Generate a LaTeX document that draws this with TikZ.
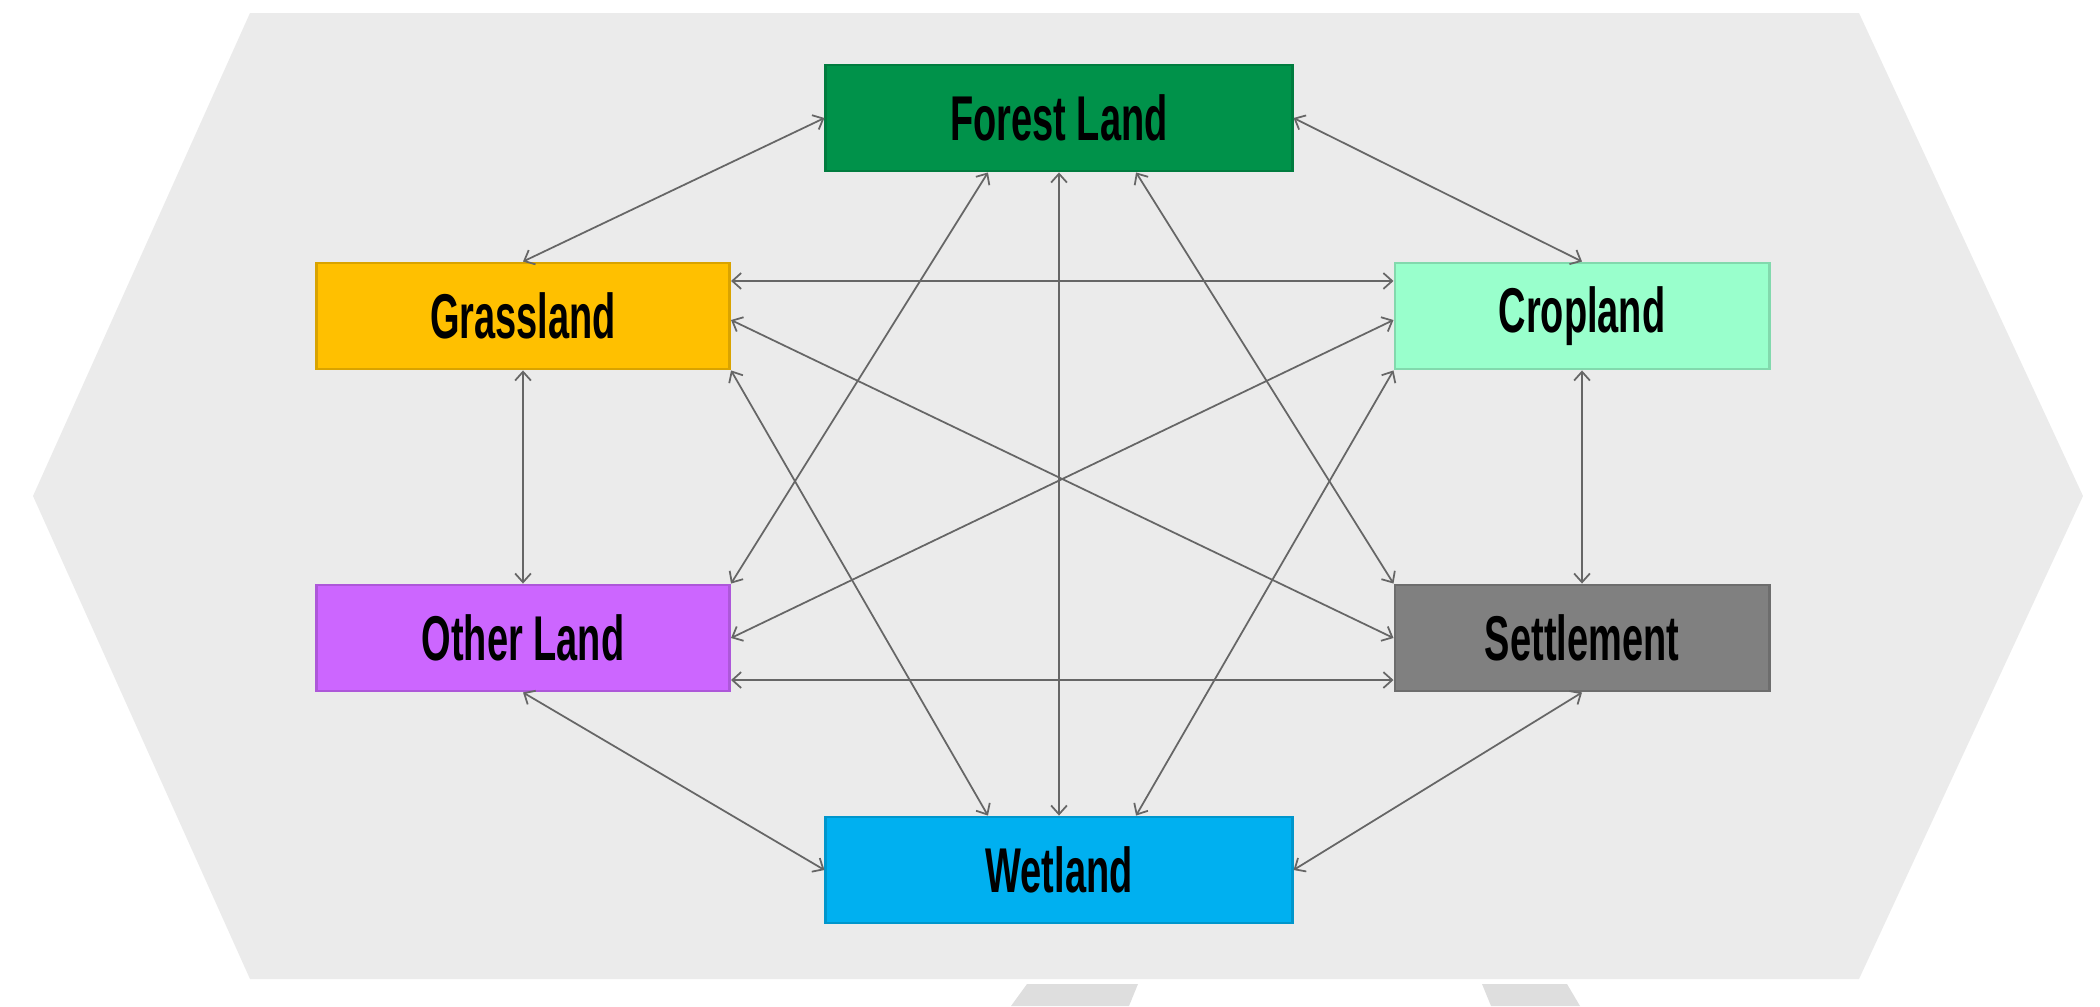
\documentclass[tikz,border=0pt]{standalone}
\usepackage{fontspec}
\newfontfamily\landfont[FakeStretch=0.6]{Liberation Sans}
\usetikzlibrary{arrows.meta}
\definecolor{hexgray}{HTML}{EBEBEB}
\definecolor{ghostgray}{HTML}{DEDEDE}
\definecolor{forestcol}{HTML}{00924A}
\definecolor{grasscol}{HTML}{FFC000}
\definecolor{cropcol}{HTML}{99FFCC}
\definecolor{othercol}{HTML}{CC66FF}
\definecolor{settlecol}{HTML}{808080}
\definecolor{wetcol}{HTML}{00B0F0}
\begin{document}
\begin{tikzpicture}[x=0.01cm,y=-0.01cm,
  land/.style={draw=#1!85!black,fill=#1,line width=0.8pt,inner sep=0pt,
    minimum height=1.06cm,text=black,font=\landfont\bfseries\fontsize{18}{20}\selectfont},
  link/.style={draw=black!60,line width=0.5pt,
    {Straight Barb[length=2.5pt,width=4.5pt]}-{Straight Barb[length=2.5pt,width=4.5pt]}}]
\useasboundingbox (0,0) rectangle (2100,1006);

% Hexagon behind the six land classes
\fill[hexgray] (250,13) -- (1859,13) -- (2083,496) -- (1859,979) -- (250,979) -- (33,496) -- cycle;
\fill[ghostgray] (1027,984) -- (1138,984) -- (1129,1006) -- (1011,1006) -- cycle;
\fill[ghostgray] (1482,984) -- (1567,984) -- (1580,1006) -- (1491,1006) -- cycle;

\node[land=forestcol,minimum width=4.66cm] (forest) at (1059,118) {Forest Land};
\node[land=grasscol,minimum width=4.13cm] (grass) at (523,316) {Grassland};
\node[land=cropcol,minimum width=3.74cm] (crop) at (1582,316) {Cropland};
\node[land=othercol,minimum width=4.13cm] (other) at (523,638) {Other Land};
\node[land=settlecol,minimum width=3.74cm] (settle) at (1582,638) {Settlement};
\node[land=wetcol,minimum width=4.66cm] (wet) at (1059,870) {Wetland};

% Every class can turn into every other one
\foreach \a/\b in {forest.west/grass.north, forest.east/crop.north, forest.south/wet.north,
    grass.south/other.north, crop.south/settle.north, other.south/wet.west, settle.south/wet.east}
  \draw[link] (\a) -- (\b);
\draw[link] ([xshift=-0.71cm]forest.south) -- (other.north east);
\draw[link] ([xshift=0.77cm]forest.south) -- (settle.north west);
\draw[link] ([yshift=0.35cm]grass.east) -- ([yshift=0.35cm]crop.west);
\draw[link] ([yshift=-0.04cm]grass.east) -- (settle.west);
\draw[link] ([yshift=-0.04cm]crop.west) -- (other.east);
\draw[link] (grass.south east) -- ([xshift=-0.71cm]wet.north);
\draw[link] (crop.south west) -- ([xshift=0.77cm]wet.north);
\draw[link] ([yshift=-0.42cm]other.east) -- ([yshift=-0.42cm]settle.west);
\end{tikzpicture}
\end{document}
